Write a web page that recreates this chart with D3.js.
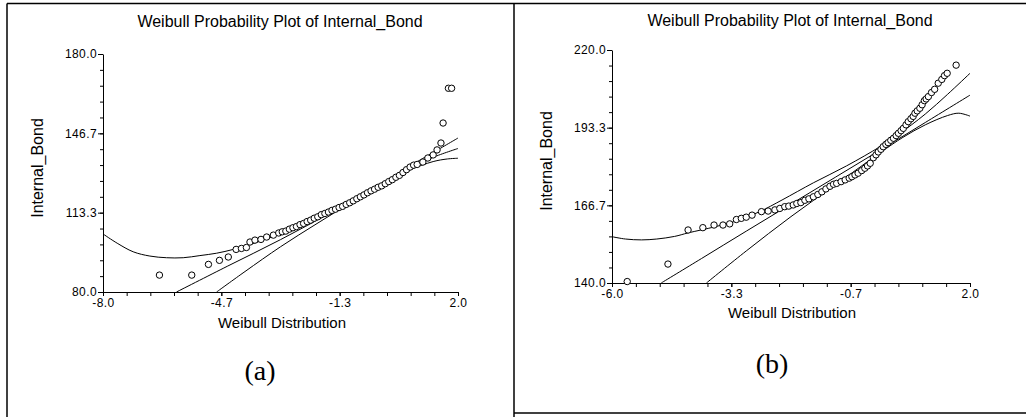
<!DOCTYPE html>
<html>
<head>
<meta charset="utf-8">
<script src="https://cdn.jsdelivr.net/npm/d3@7"></script>
<style>
  body { margin: 0; background: #fff; }
  svg { display: block; }
</style>
</head>
<body>
<div id="chart"></div>
<script>
// ---- data ----
var titleText = "Weibull Probability Plot of Internal_Bond";
var xLabelText = "Weibull Distribution";
var yLabelText = "Internal_Bond";

// panel (a)
var aXTicks = [-8, -14 / 3, -4 / 3, 2];
var aXTickLabels = ["-8.0", "-4.7", "-1.3", "2.0"];
var aYTicks = [80, 340 / 3, 440 / 3, 180];
var aYTickLabels = ["80.0", "113.3", "146.7", "180.0"];

var aPoints = [
  [-6.41, 87.1], [-5.50, 87.1], [-5.03, 91.6], [-4.72, 93.3], [-4.47, 94.7],
  [-4.25, 97.9], [-4.10, 98.3], [-3.96, 98.7], [-3.86, 101.0], [-3.72, 101.8],
  [-3.55, 102.1], [-3.39, 103.1], [-3.20, 103.9],
  [-3.05, 104.8], [-2.95, 105.3], [-2.85, 105.6], [-2.75, 106.4], [-2.65, 107.0],
  [-2.55, 107.5], [-2.45, 108.3], [-2.35, 108.8], [-2.25, 109.6], [-2.15, 110.2],
  [-2.05, 111.0], [-1.95, 111.6], [-1.85, 112.5], [-1.75, 113.0], [-1.65, 113.6],
  [-1.55, 114.3], [-1.45, 114.8], [-1.35, 115.5], [-1.25, 116.0], [-1.15, 116.8],
  [-1.05, 117.5], [-0.95, 118.3], [-0.85, 119.2], [-0.75, 120.0], [-0.65, 120.8],
  [-0.55, 121.7], [-0.45, 122.5], [-0.35, 123.2], [-0.25, 124.0], [-0.15, 124.6],
  [-0.05, 125.5], [0.05, 126.4], [0.15, 127.2], [0.25, 128.2], [0.35, 129.0],
  [0.45, 130.2], [0.55, 131.4], [0.65, 132.5], [0.75, 133.3], [0.85, 133.6],
  [1.01, 134.6], [1.15, 136.3], [1.30, 137.6], [1.41, 139.7], [1.52, 142.6],
  [1.58, 151.0], [1.73, 165.6], [1.82, 165.6]
];
var aFit = [[-5.93, 80], [-4.5, 90.8], [-3.0, 102], [-1.5, 114], [0, 126.5], [0.65, 132], [1.3, 136.6], [2.0, 140.3]];
var aUpper = [[-8, 104.4], [-7.6, 100.5], [-7.15, 96.9], [-6.68, 95.1], [-6.21, 94.4], [-5.74, 94.4],
  [-5.27, 95.3], [-4.8, 96.3], [-4.33, 97.9], [-3.86, 100.0], [-3.39, 102.3], [-3.0, 104.6],
  [-2.0, 111.3], [-1.0, 118.3], [0, 126.8], [0.65, 133.0], [1.3, 138.6], [2.0, 144.7]];
var aLower = [[-4.8, 80], [-4.0, 88.6], [-3.0, 99.0], [-2.0, 108.5], [-1.0, 117.6], [0, 125.9],
  [0.65, 131.3], [1.3, 134.8], [1.7, 135.9], [2.0, 136.2]];

// panel (b)
var bXTicks = [-6, -10 / 3, -2 / 3, 2];
var bXTickLabels = ["-6.0", "-3.3", "-0.7", "2.0"];
var bYTicks = [140, 500 / 3, 580 / 3, 220];
var bYTickLabels = ["140.0", "166.7", "193.3", "220.0"];

var bPoints = [
  [-5.66, 140.5], [-4.75, 146.5], [-4.30, 158.2], [-3.97, 159.0], [-3.72, 159.9],
  [-3.52, 159.9], [-3.37, 160.3], [-3.22, 161.8], [-3.11, 162.2], [-3.00, 162.6],
  [-2.87, 163.3], [-2.66, 164.5], [-2.51, 164.7], [-2.36, 165.1], [-2.25, 165.6],
  [-2.14, 166.2], [-2.05, 166.4], [-1.95, 166.8], [-1.87, 167.3], [-1.78, 167.6],
  [-1.69, 168.4], [-1.60, 168.9], [-1.50, 169.6], [-1.40, 170.4], [-1.31, 171.3],
  [-1.22, 172.3], [-1.13, 173.2], [-1.05, 173.9], [-0.98, 174.2], [-0.88, 174.8],
  [-0.79, 175.4], [-0.70, 176.0], [-0.64, 176.5], [-0.57, 177.1], [-0.50, 177.7],
  [-0.42, 178.6], [-0.35, 179.4], [-0.29, 180.2], [-0.23, 181.1], [-0.16, 183.0],
  [-0.10, 184.0], [-0.05, 185.0], [0.01, 185.9], [0.06, 186.8], [0.12, 187.6],
  [0.17, 188.2], [0.23, 189.0], [0.29, 189.7], [0.35, 190.6], [0.40, 191.4],
  [0.46, 192.3], [0.51, 193.1], [0.57, 194.3], [0.62, 195.4], [0.68, 196.4],
  [0.73, 197.2], [0.77, 198.3], [0.82, 199.1], [0.88, 200.0], [0.93, 201.2],
  [0.98, 202.6], [1.02, 203.2], [1.07, 204.0], [1.14, 205.4], [1.21, 206.5],
  [1.29, 208.6], [1.37, 209.9], [1.43, 211.2], [1.49, 212.0], [1.69, 214.8]
];
var bFit = [[-4.9, 140], [-4, 148.4], [-3, 157.8], [-2, 167.1], [-1, 176.4], [0, 185.7], [1, 195.1], [2, 204.5]];
var bUpper = [[-6, 155.9], [-5.7, 155.1], [-5.34, 154.8], [-5.0, 155.1], [-4.6, 156.0], [-4.3, 157.2],
  [-3.7, 159.3], [-3.2, 161.4], [-2.7, 164.5], [-2.2, 168.5], [-1.5, 174.4], [-0.76, 180.2],
  [0, 186.9], [0.4, 191.0], [1.0, 198.0], [1.5, 204.8], [2.0, 212.0]];
var bLower = [[-3.89, 140], [-3, 151], [-2, 162.8], [-1, 173.8], [0, 184.8], [0.5, 190],
  [1, 194.3], [1.5, 197.5], [1.75, 198.3], [2.0, 197.3]];

// ---- drawing ----
var sans = "Liberation Sans, Arial, sans-serif";
var serif = "Liberation Serif, Times New Roman, serif";
var svg = d3.select("#chart").append("svg").attr("width", 1026).attr("height", 417)
  .style("font-family", sans);

// outer frames
var frame = [[7, 3.5, 1026, 3.5], [7, 3.5, 7, 417], [514, 3.5, 514, 417], [514, 413, 1026, 413]];
svg.selectAll("line.frame").data(frame).enter().append("line")
  .attr("class", "frame")
  .attr("x1", d => d[0]).attr("y1", d => d[1]).attr("x2", d => d[2]).attr("y2", d => d[3])
  .attr("stroke", "#000").attr("stroke-width", 1.5);

function drawPanel(p) {
  var x = d3.scaleLinear().domain([p.xTicks[0], p.xTicks[3]]).range([p.left, p.right]);
  var y = d3.scaleLinear().domain([p.yTicks[0], p.yTicks[3]]).range([p.bottom, p.top]);
  var g = svg.append("g");

  // minor ticks: 5 per major interval
  var xMinor = d3.range(16).map(i => p.xTicks[0] + i * (p.xTicks[3] - p.xTicks[0]) / 15);
  var yMinor = d3.range(16).map(i => p.yTicks[0] + i * (p.yTicks[3] - p.yTicks[0]) / 15);

  g.append("g").attr("transform", `translate(0,${p.bottom})`)
    .call(d3.axisBottom(x).tickValues(xMinor).tickSize(4).tickSizeOuter(0).tickFormat(""));
  g.append("g").attr("transform", `translate(0,${p.bottom})`)
    .call(d3.axisBottom(x).tickValues(p.xTicks).tickSize(4).tickPadding(2).tickSizeOuter(0)
      .tickFormat((d, i) => p.xLabels[i]))
    .call(a => a.select(".domain").remove());
  g.append("g").attr("transform", `translate(${p.left},0)`)
    .call(d3.axisLeft(y).tickValues(yMinor).tickSize(3).tickSizeOuter(0).tickFormat(""));
  g.append("g").attr("transform", `translate(${p.left},0)`)
    .call(d3.axisLeft(y).tickValues(p.yTicks).tickSize(5).tickPadding(1).tickSizeOuter(0)
      .tickFormat((d, i) => p.yLabels[i]))
    .call(a => a.select(".domain").remove());
  g.selectAll(".tick text").style("font-size", "12px").style("font-family", sans)
    .style("letter-spacing", "0.4px").attr("fill", "#000");
  g.selectAll(".domain, .tick line").attr("stroke", "#000");

  var line = d3.line().x(d => x(d[0])).y(d => y(d[1])).curve(d3.curveCatmullRom);
  [p.upper, p.fit, p.lower].forEach(function (s) {
    g.append("path").attr("d", line(s)).attr("fill", "none")
      .attr("stroke", "#000").attr("stroke-width", 1);
  });

  g.selectAll("circle").data(p.points).enter().append("circle")
    .attr("cx", d => x(d[0])).attr("cy", d => y(d[1])).attr("r", 3.2)
    .attr("fill", "#fff").attr("stroke", "#000").attr("stroke-width", 1);

  g.append("text").attr("x", p.titleX).attr("y", p.titleY).attr("text-anchor", "middle")
    .style("font-size", "16px").text(titleText);
  g.append("text").attr("x", p.xLabX).attr("y", p.xLabY).attr("text-anchor", "middle")
    .style("font-size", "15px").text(xLabelText);
  g.append("text").attr("transform", `translate(${p.yLabX},${p.yLabY}) rotate(-90)`)
    .attr("text-anchor", "middle").style("font-size", "16px").text(yLabelText);
  g.append("text").attr("x", p.tagX).attr("y", p.tagY).attr("text-anchor", "middle")
    .style("font-family", serif).style("font-size", "28px").text(p.tag);
}

drawPanel({
  left: 103, right: 458, top: 54, bottom: 292,
  xTicks: aXTicks, xLabels: aXTickLabels, yTicks: aYTicks, yLabels: aYTickLabels,
  points: aPoints, fit: aFit, upper: aUpper, lower: aLower,
  titleX: 280, titleY: 27, xLabX: 282, xLabY: 328, yLabX: 43, yLabY: 168, tagX: 260, tagY: 380, tag: "(a)"
});
drawPanel({
  left: 612, right: 970, top: 50, bottom: 283,
  xTicks: bXTicks, xLabels: bXTickLabels, yTicks: bYTicks, yLabels: bYTickLabels,
  points: bPoints, fit: bFit, upper: bUpper, lower: bLower,
  titleX: 790, titleY: 26, xLabX: 792, xLabY: 318, yLabX: 552, yLabY: 161, tagX: 772, tagY: 373, tag: "(b)"
});
</script>
</body>
</html>
